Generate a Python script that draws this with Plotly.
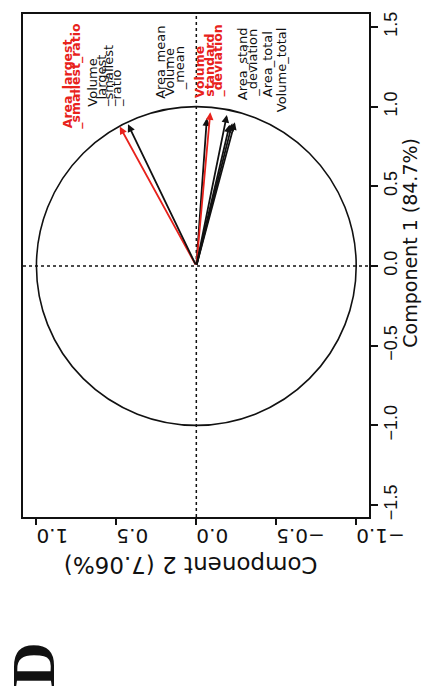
import plotly.graph_objects as go

# PCA loadings (correlation circle) of the size / shape variables
variables = [
    "Area_mean",
    "Volume_mean",
    "Volume_standard_deviation",
    "Area_standard_deviation",
    "Area_total",
    "Volume_total",
    "Area_largest_smallest_ratio",
    "Volume_largest_smallest_ratio",
]
comp1 = [0.927, 0.886, 0.964, 0.948, 0.896, 0.902, 0.875, 0.889]
comp2 = [-0.066, -0.208, -0.0875, -0.191, -0.225, -0.241, 0.479, 0.4275]
highlighted = ["Volume_standard_deviation", "Area_largest_smallest_ratio"]

comp1_ticks = [-1.5, -1.0, -0.5, 0.0, 0.5, 1.0, 1.5]
comp2_ticks = [-1.0, -0.5, 0.0, 0.5, 1.0]
comp1_title = "Component 1 (84.7%)"
comp2_title = "Component 2 (7.06%)"
panel_tag = "D"

RED = "#e8221c"
BLACK = "#111111"


def tick_text(v):
    s = f"{abs(v):.1f}"
    return ("\u2212" + s) if v < 0 else s


# wrapped variable names: (line, highlighted?, comp2 position, comp1 start)
label_lines = [
    ("Area_largest", True, 0.806, 0.864),
    ("_smallest_ratio", True, 0.750, 0.864),
    ("Volume", False, 0.646, 1.000),
    ("_largest", False, 0.594, 1.000),
    ("_smallest", False, 0.550, 1.000),
    ("_ratio", False, 0.500, 1.000),
    ("Area_mean", False, 0.229, 1.050),
    ("Volume", False, 0.167, 1.062),
    ("_mean", False, 0.104, 1.100),
    ("Volume", True, -0.021, 1.052),
    ("standard", True, -0.083, 1.062),
    ("_deviation", True, -0.135, 1.062),
    ("Area_stand", False, -0.291, 1.042),
    ("_deviation", False, -0.354, 1.062),
    ("Area_total", False, -0.445, 1.062),
    ("Volume_total", False, -0.530, 0.962),
]

fig = go.Figure()

# invisible trace so hover shows the loadings at the arrow tips
fig.add_trace(go.Scatter(
    x=comp2, y=comp1, mode="markers",
    marker=dict(size=6, opacity=0),
    text=variables, hoverinfo="text", showlegend=False,
))

shapes = [
    dict(type="circle", xref="x", yref="y", x0=-1, x1=1, y0=-1, y1=1,
         line=dict(color=BLACK, width=1.6)),
    dict(type="line", xref="x", yref="paper", x0=0, x1=0, y0=0, y1=1,
         line=dict(color=BLACK, width=1.5, dash="dot")),
    dict(type="line", xref="paper", yref="y", x0=0, x1=1, y0=0, y1=0,
         line=dict(color=BLACK, width=1.5, dash="dot")),
]

annotations = []
# loading arrows from the origin
for name, c1, c2 in zip(variables, comp1, comp2):
    col = RED if name in highlighted else BLACK
    annotations.append(dict(
        x=c2, y=c1, ax=0, ay=0, xref="x", yref="y", axref="x", ayref="y",
        text="", showarrow=True, arrowhead=2, arrowsize=0.85, arrowwidth=1.8,
        arrowcolor=col, standoff=0,
    ))

# variable labels, one annotation per wrapped line
for txt, hl, c2, c1 in label_lines:
    annotations.append(dict(
        x=c2, y=c1, xref="x", yref="y", text=txt, showarrow=False,
        textangle=-90, xanchor="center", yanchor="bottom",
        borderpad=0, borderwidth=0,
        font=dict(family="DejaVu Sans", size=12.5 if hl else 13,
                  color=RED if hl else BLACK,
                  weight="bold" if hl else "normal"),
    ))

# axis titles
annotations.append(dict(
    x=0.485, y=-0.094, xref="paper", yref="paper", text=comp2_title,
    showarrow=False, textangle=180, xanchor="center", yanchor="middle",
    font=dict(family="DejaVu Sans", size=23, color=BLACK),
))
annotations.append(dict(
    x=1.118, y=0.545, xref="paper", yref="paper", text=comp1_title,
    showarrow=False, textangle=-90, xanchor="center", yanchor="middle",
    font=dict(family="DejaVu Sans", size=19, color=BLACK),
))
# panel tag
annotations.append(dict(
    x=0.031, y=-0.293, xref="paper", yref="paper", text=panel_tag,
    showarrow=False, textangle=-90, xanchor="center", yanchor="middle",
    font=dict(family="Liberation Serif", size=62, color=BLACK, weight="bold"),
))

fig.update_layout(
    width=430, height=690,
    margin=dict(l=23, r=61, t=12, b=173),
    paper_bgcolor="white", plot_bgcolor="white",
    shapes=shapes, annotations=annotations,
    showlegend=False,
    xaxis=dict(
        range=[1.084, -1.08], tickvals=comp2_ticks,
        ticktext=[tick_text(v) for v in comp2_ticks], tickangle=180,
        ticks="outside", ticklen=6, tickwidth=1.5, tickcolor=BLACK,
        showline=True, mirror=True, linecolor=BLACK, linewidth=2,
        showgrid=False, zeroline=False,
        tickfont=dict(family="DejaVu Sans", size=20, color=BLACK),
    ),
    yaxis=dict(
        range=[-1.575, 1.581], side="right", tickvals=comp1_ticks,
        ticktext=[tick_text(v) for v in comp1_ticks], tickangle=-90,
        ticks="outside", ticklen=7, tickwidth=1.5, tickcolor=BLACK,
        ticklabelstandoff=-3,
        showline=True, mirror=True, linecolor=BLACK, linewidth=2,
        showgrid=False, zeroline=False,
        tickfont=dict(family="Liberation Sans", size=18, color=BLACK),
    ),
)

fig.write_html("out.html")
